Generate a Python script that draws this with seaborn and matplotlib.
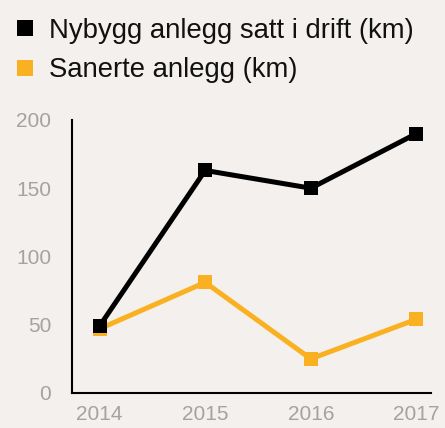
import matplotlib
matplotlib.use("Agg")
import matplotlib.pyplot as plt
from matplotlib.lines import Line2D
import seaborn as sns
import pandas as pd

years = [2014, 2015, 2016, 2017]
nybygg = [49, 163, 150, 190]
sanerte = [47, 81, 25, 54]
labels = ["Nybygg anlegg satt i drift (km)", "Sanerte anlegg (km)"]
colors = ["#000000", "#f9b122"]

df = pd.DataFrame({
    "year": years * 2,
    "km": nybygg + sanerte,
    "serie": [labels[0]] * 4 + [labels[1]] * 4,
})

bg = "#f3f0ed"
sns.set_style("white")
plt.rcParams["font.family"] = ["Liberation Sans", "DejaVu Sans"]

fig = plt.figure(figsize=(4.45, 4.28), dpi=100, facecolor=bg)
ax = fig.add_axes([0.162, 0.0818, 0.807, 0.638], facecolor=bg)

# yellow first so the black line sits on top
sns.lineplot(data=df, x="year", y="km", hue="serie",
             hue_order=[labels[1], labels[0]],
             palette={labels[0]: colors[0], labels[1]: colors[1]},
             style="serie", markers=["s", "s"], dashes=False,
             linewidth=3.6, markersize=10, markeredgewidth=0,
             legend=False, ax=ax)

ax.set_xlim(2013.74, 2017.14)
ax.set_ylim(0, 200)
ax.set_xticks(years)
ax.set_yticks([0, 50, 100, 150, 200])
ax.set_xlabel("")
ax.set_ylabel("")
ax.tick_params(length=0, labelsize=15, labelcolor="#a3a3a3")
ax.tick_params(axis="x", pad=9)
ax.tick_params(axis="y", pad=15)
for s in ["top", "right"]:
    ax.spines[s].set_visible(False)
for s in ["left", "bottom"]:
    ax.spines[s].set_color("#000000")
    ax.spines[s].set_linewidth(1.5)

handles = [Line2D([], [], marker="s", linestyle="none", color=c,
                  markersize=12, markeredgewidth=0) for c in colors]
fig.legend(handles, labels, loc="upper left", bbox_to_anchor=(0.018, 0.958),
           frameon=False, fontsize=19.8, handletextpad=0.3,
           labelspacing=0.49, handlelength=1.2, borderpad=0,
           borderaxespad=0, labelcolor="#111111")

fig.savefig("out.png", dpi=100, facecolor=bg)
